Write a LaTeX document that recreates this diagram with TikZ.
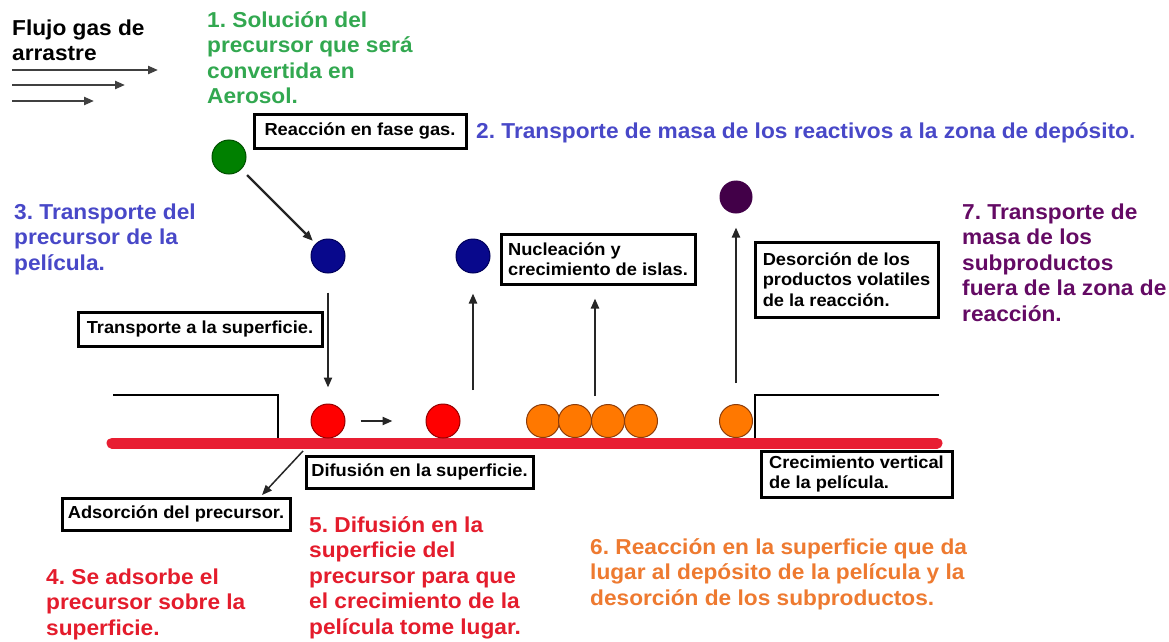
\documentclass[tikz,border=0pt]{standalone}
\usepackage{fontspec}
\setmainfont{Liberation Sans}[FakeStretch=1.05]
\usetikzlibrary{arrows.meta,calc}
\definecolor{greenT}{RGB}{50,168,80}
\definecolor{blueT}{RGB}{72,72,200}
\definecolor{purpleT}{RGB}{100,10,100}
\definecolor{redT}{RGB}{228,28,44}
\definecolor{orangeT}{RGB}{238,122,48}
\definecolor{barred}{RGB}{232,30,50}
\definecolor{ballgreen}{RGB}{0,128,0}
\definecolor{ballgreenD}{RGB}{0,80,0}
\definecolor{ballblue}{RGB}{8,8,140}
\definecolor{ballblueD}{RGB}{0,0,90}
\definecolor{ballpurple}{RGB}{66,0,72}
\definecolor{ballred}{RGB}{255,0,0}
\definecolor{ballredD}{RGB}{150,0,0}
\definecolor{ballorange}{RGB}{255,120,0}
\definecolor{ballorangeD}{RGB}{140,60,10}
\frenchspacing
\begin{document}
\begin{tikzpicture}[x=1pt,y=-1pt,
  lbl/.style={anchor=north west, inner sep=0pt, align=left, font=\bfseries\fontsize{21.6}{25.5}\selectfont},
  boxlbl/.style={draw=black, line width=3pt, inner sep=0pt, align=left, font=\bfseries\fontsize{17.4}{20.5}\selectfont},
  ball/.style={circle, inner sep=0pt, minimum size=34pt, line width=1pt},
  arr/.style={line width=2.2pt, draw=black!85, -{Triangle[length=10pt,width=8pt]}},
  wall/.style={line width=2.8pt, draw=black},
]
\useasboundingbox[fill=white] (0,0) rectangle (1169,642);

% ---- texts ----
\node[lbl] (flujo) at (12,18) {\rule{0pt}{17pt}Flujo gas de\\arrastre};
\node[lbl, text=greenT] (t1) at (207,10) {\rule{0pt}{17pt}1. Solución del\\precursor que será\\convertida en\\Aerosol.};
\node[lbl, text=blueT] (t2) at (476,121) {\rule{0pt}{17pt}2. Transporte de masa de los reactivos a la zona de depósito.};
\node[lbl, text=blueT] (t3) at (14,202) {\rule{0pt}{17pt}3. Transporte del\\precursor de la\\película.};
\node[lbl, text=purpleT] (t7) at (962,202) {\rule{0pt}{17pt}7. Transporte de\\masa de los\\subproductos\\fuera de la zona de\\reacción.};
\node[lbl, text=redT] (t4) at (46,567) {\rule{0pt}{17pt}4. Se adsorbe el\\precursor sobre la\\superficie.};
\node[lbl, text=redT] (t5) at (309,515) {\rule{0pt}{17pt}5. Difusión en la\\superficie del\\precursor para que\\el crecimiento de la\\película tome lugar.};
\node[lbl, text=orangeT] (t6) at (590,537) {\rule{0pt}{17pt}6. Reacción en la superficie que da\\lugar al depósito de la película y la\\desorción de los subproductos.};

% ---- boxed labels ----
\node[boxlbl, minimum width=212pt, minimum height=34pt] (R) at (360,131) {Reacción en fase gas.};
\node[boxlbl, minimum width=244pt, minimum height=34pt] (T) at (200,329) {Transporte a la superficie.};
\node[boxlbl, minimum width=194pt, minimum height=50pt] (N) at (598,259) {Nucleación y\\crecimiento de islas.};
\node[boxlbl, minimum width=183pt, minimum height=75pt] (D) at (846.5,279.5) {Desorción de los\\productos volatiles\\de la reacción.};
\node[boxlbl, minimum width=227pt, minimum height=32pt] (F) at (419.5,472) {Difusión en la superficie.};
\node[boxlbl, minimum width=228pt, minimum height=32pt] (A) at (176,514) {Adsorción del precursor.};
\node[boxlbl, minimum width=191pt, minimum height=46pt] (C) at (856.5,474) {Crecimiento vertical\\de la película.};

% ---- substrate ----
\draw[line width=11pt, draw=barred, line cap=round] (112,443) -- (937,443);
\draw[wall] (113,395) -- (278,395) -- (278,438);
\draw[wall] (755,438) -- (755,395) -- (939,395);

% ---- balls ----
\node[ball, fill=ballgreen, draw=ballgreenD] (g) at (229,157) {};
\node[ball, fill=ballblue, draw=ballblueD] (b1) at (328,256) {};
\node[ball, fill=ballblue, draw=ballblueD] (b2) at (473,256) {};
\node[ball, fill=ballpurple, draw=ballpurple, minimum size=32pt] (p) at (736,197) {};
\node[ball, fill=ballred, draw=ballredD] (r1) at (328,421) {};
\node[ball, fill=ballred, draw=ballredD] (r2) at (443,421) {};
\node[ball, fill=ballorange, draw=ballorangeD, minimum size=33pt] (o1) at (543,421) {};
\node[ball, fill=ballorange, draw=ballorangeD, minimum size=33pt] (o2) at (575,421) {};
\node[ball, fill=ballorange, draw=ballorangeD, minimum size=33pt] (o3) at (608,421) {};
\node[ball, fill=ballorange, draw=ballorangeD, minimum size=33pt] (o4) at (641,421) {};
\node[ball, fill=ballorange, draw=ballorangeD, minimum size=33pt] (o5) at (736,421) {};

% ---- gas flow arrows ----
\coordinate (f1s) at (12,70);  \coordinate (f1e) at (158,70);
\coordinate (f2s) at (12,85);  \coordinate (f2e) at (125,85);
\coordinate (f3s) at (12,101); \coordinate (f3e) at (94,101);
\draw[arr, draw=black!75] (f1s) -- (f1e);
\draw[arr, draw=black!75] (f2s) -- (f2e);
\draw[arr, draw=black!75] (f3s) -- (f3e);

% ---- process arrows ----
\draw[arr, shorten <=8pt, shorten >=4pt] (g) -- (b1);
\draw[arr, shorten <=19pt, shorten >=16pt] (b1) -- (r1);
\draw[arr, shorten <=15pt, shorten >=33pt] (r1) -- (r2);
\coordinate (u1) at (473,390);
\draw[arr, shorten >=20pt] (u1) -- (b2);
\coordinate (u2) at (595,396);
\draw[arr, shorten >=13pt] (u2) -- (N.south -| u2);
\draw[arr, shorten <=21pt, shorten >=14pt] (o5) -- (p);
\coordinate (d0) at (303,451);
\coordinate (d1) at (262,495);
\draw[arr, line width=1.5pt] (d0) -- (d1);
\end{tikzpicture}
\end{document}
